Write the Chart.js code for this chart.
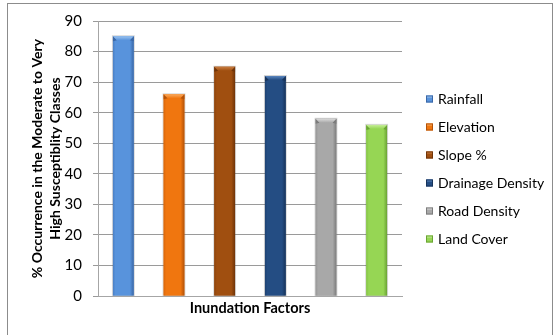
<!DOCTYPE html>
<html>
<head>
<meta charset="utf-8">
<script src="https://cdn.jsdelivr.net/npm/chart.js@4/dist/chart.umd.min.js"></script>
<style>
  html, body { margin: 0; padding: 0; background: #fff; }
  #wrap { position: relative; width: 554px; height: 335px; }
</style>
</head>
<body>
<div id="wrap"><canvas id="c" width="554" height="335"></canvas></div>
<script>
// Share of each inundation factor falling in the moderate-to-very-high susceptibility classes
const factors = ['Rainfall', 'Elevation', 'Slope %', 'Drainage Density', 'Road Density', 'Land Cover'];
const occurrence = [85, 66, 75, 72, 58, 56];
const xTitle = 'Inundation Factors';
const yTitle = ['% Occurrence in the Moderate to Very', 'High Susceptiblity Classes'];
const yMin = 0, yMax = 90, yStep = 10;

// Bar styling: body colour, darker edges and a lighter bevelled cap
const shades = [
  { main: '#5893dc', edge: '#4a7fc4', dark: '#3a67a6', light: '#9cc4f0' },
  { main: '#f0760f', edge: '#d8660a', dark: '#b35208', light: '#f9ab60' },
  { main: '#a04f10', edge: '#8c430c', dark: '#703408', light: '#c97d40' },
  { main: '#244d83', edge: '#1e4272', dark: '#17335a', light: '#5a86bf' },
  { main: '#a8a8a8', edge: '#969696', dark: '#7c7c7c', light: '#dadada' },
  { main: '#96d654', edge: '#84c244', dark: '#6aa334', light: '#c6ee98' }
];

const frame = {
  id: 'frame',
  beforeDraw(chart) {
    const ctx = chart.ctx;
    ctx.save();
    ctx.fillStyle = '#fff';
    ctx.fillRect(0, 0, chart.width, chart.height);
    ctx.strokeStyle = '#8c8c8c';
    ctx.lineWidth = 1;
    ctx.strokeRect(7.5, 3.5, 545, 345);
    ctx.restore();
  }
};

const barShade = {
  id: 'barShade',
  afterDatasetsDraw(chart) {
    const ctx = chart.ctx;
    ctx.save();
    chart.data.datasets.forEach((ds, i) => {
      const sh = shades[i];
      chart.getDatasetMeta(i).data.forEach(bar => {
        const p = bar.getProps(['x', 'y', 'width', 'base'], true);
        const x0 = p.x - p.width / 2, x1 = p.x + p.width / 2;
        const top = p.y, bottom = p.base;
        // soft outline
        ctx.strokeStyle = 'rgba(90,90,90,0.25)';
        ctx.lineWidth = 1;
        ctx.strokeRect(x0 - 0.5, top - 0.5, p.width + 1, bottom - top + 0.5);
        // cylindrical body
        const g = ctx.createLinearGradient(x0, 0, x1, 0);
        g.addColorStop(0, sh.edge);
        g.addColorStop(0.12, sh.main);
        g.addColorStop(0.82, sh.main);
        g.addColorStop(1, sh.dark);
        ctx.fillStyle = g;
        ctx.fillRect(x0, top, p.width, bottom - top);
        // bevelled cap
        const b = 4;
        ctx.fillStyle = sh.dark;
        ctx.beginPath();
        ctx.moveTo(x0, top); ctx.lineTo(x0 + b, top + b); ctx.lineTo(x0, top + b + 1); ctx.closePath();
        ctx.moveTo(x1, top); ctx.lineTo(x1 - b, top + b); ctx.lineTo(x1, top + b + 1); ctx.closePath();
        ctx.fill();
        const cg = ctx.createLinearGradient(0, top, 0, top + b);
        cg.addColorStop(0, sh.light);
        cg.addColorStop(1, sh.main);
        ctx.fillStyle = cg;
        ctx.beginPath();
        ctx.moveTo(x0, top); ctx.lineTo(x1, top); ctx.lineTo(x1 - b, top + b); ctx.lineTo(x0 + b, top + b);
        ctx.closePath();
        ctx.fill();
      });
    });
    ctx.restore();
  }
};

const sideLegend = {
  id: 'sideLegend',
  afterDraw(chart) {
    const ctx = chart.ctx;
    const items = chart.data.datasets;
    const step = 28;
    const yStart = chart.height / 2 + 1.5 - step * (items.length - 1) / 2;
    const bx = 426;
    ctx.save();
    ctx.font = '14px Lato';
    ctx.textBaseline = 'middle';
    ctx.textAlign = 'left';
    items.forEach((ds, i) => {
      const sh = shades[i];
      const y = Math.round(yStart + i * step);
      ctx.fillStyle = sh.main;
      ctx.fillRect(bx, y - 3.5, 7, 7);
      ctx.fillStyle = sh.light;
      ctx.fillRect(bx + 1, y - 3.5, 5, 2);
      ctx.strokeStyle = sh.dark;
      ctx.lineWidth = 1;
      ctx.strokeRect(bx + 0.5, y - 3, 6, 6);
      ctx.fillStyle = '#000';
      ctx.fillText(ds.label, bx + 12, y);
    });
    ctx.restore();
  }
};

new Chart(document.getElementById('c'), {
  type: 'bar',
  data: {
    labels: [xTitle],
    datasets: factors.map((f, i) => ({
      label: f,
      data: [occurrence[i]],
      backgroundColor: shades[i].main,
      borderWidth: 0
    }))
  },
  options: {
    responsive: false,
    devicePixelRatio: 1,
    animation: false,
    layout: { padding: { top: 21, right: 152, left: 0, bottom: 0 } },
    datasets: { bar: { categoryPercentage: 1, barPercentage: 0.41 } },
    plugins: { legend: { display: false }, tooltip: { enabled: false } },
    scales: {
      x: {
        grid: { display: false },
        border: { display: true, color: '#a6a6a6' },
        ticks: { display: false },
        title: {
          display: true, text: xTitle, color: '#000',
          font: { family: 'Lato', size: 14.5, weight: 'bold' },
          padding: { top: 4, bottom: 18 }
        },
        afterFit(scale) { scale.height = 39; }
      },
      y: {
        min: yMin, max: yMax,
        ticks: {
          stepSize: yStep, color: '#000', padding: 11,
          font: { family: 'Lato', size: 15 }
        },
        grid: { color: '#9a9a9a', tickLength: 5 },
        border: { display: true, color: '#a6a6a6' },
        title: {
          display: true, text: yTitle, color: '#000',
          font: { family: 'Lato', size: 14, weight: 'bold', lineHeight: 1.3 },
          padding: { top: 28, bottom: 0 }
        },
        afterFit(scale) { scale.width = 98; }
      }
    }
  },
  plugins: [frame, barShade, sideLegend]
});
</script>
</body>
</html>
